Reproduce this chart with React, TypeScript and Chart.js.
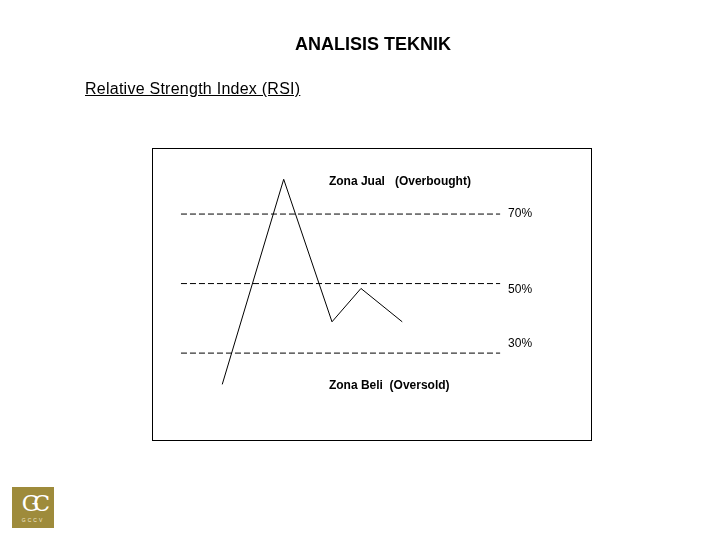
import React, { useEffect, useRef } from "react";
import { Chart, registerables } from "chart.js";

Chart.register(...registerables);

// RSI path (schematic), x in 0..100 horizontal units, y in RSI %
const rsiX = [16, 30, 41, 47.6, 57];
const rsiY = [21, 80, 39, 48.6, 39];

// Reference levels
const levels = [70, 50, 30];
const levelLabels = ["70%", "50%", "30%"];
const levelLabelY = [70.1, 48.3, 32.7];
const levelStartX = 6.6;
const levelEndX = 79.3;
const levelLabelX = 81.1;

// Zone annotations
const zoneTexts = ["Zona Jual   (Overbought)", "Zona Beli  (Oversold)"];
const zoneX = [40.3, 40.3];
const zoneY = [79.4, 20.6];

const FONT = "'Liberation Sans', Arial, sans-serif";

const annotate = {
  id: "annotate",
  afterDraw(chart: any) {
    const { ctx, chartArea, scales } = chart;
    ctx.save();
    ctx.strokeStyle = "#000";
    ctx.lineWidth = 1;
    ctx.setLineDash([]);
    ctx.strokeRect(
      Math.round(chartArea.left) + 0.5,
      Math.round(chartArea.top) + 0.5,
      Math.round(chartArea.right - chartArea.left),
      Math.round(chartArea.bottom - chartArea.top)
    );
    ctx.fillStyle = "#000";
    ctx.textBaseline = "middle";
    ctx.textAlign = "left";
    ctx.font = `bold 12px ${FONT}`;
    zoneTexts.forEach((t, i) => {
      ctx.fillText(t, scales.x.getPixelForValue(zoneX[i]), scales.y.getPixelForValue(zoneY[i]));
    });
    ctx.font = `12px ${FONT}`;
    levelLabels.forEach((t, i) => {
      ctx.fillText(t, scales.x.getPixelForValue(levelLabelX), scales.y.getPixelForValue(levelLabelY[i]));
    });
    ctx.restore();
  },
};

export default function App() {
  const ref = useRef<HTMLCanvasElement | null>(null);
  useEffect(() => {
    if (!ref.current) return;
    const datasets: any[] = [
      {
        data: rsiX.map((x, i) => ({ x, y: rsiY[i] })),
        borderColor: "#000",
        borderWidth: 1,
        pointRadius: 0,
        tension: 0,
      },
      ...levels.map((lv) => ({
        data: [
          { x: levelStartX, y: lv },
          { x: levelEndX, y: lv },
        ],
        borderColor: "#000",
        borderWidth: 1,
        borderDash: [6, 3],
        pointRadius: 0,
      })),
    ];
    const chart = new Chart(ref.current, {
      type: "line",
      data: { datasets },
      options: {
        animation: false,
        responsive: false,
        layout: { padding: { left: 152, right: 129, top: 148, bottom: 100 } },
        plugins: { legend: { display: false }, tooltip: { enabled: false }, title: { display: false } },
        scales: {
          x: { type: "linear", min: 0, max: 100, display: false },
          y: { type: "linear", min: 5, max: 89, display: false },
        },
      },
      plugins: [annotate],
    });
    return () => chart.destroy();
  }, []);

  return (
    <div style={{ position: "absolute", left: 0, top: 0, width: 720, height: 540, background: "#fff", fontFamily: FONT }}>
      <canvas ref={ref} width={720} height={540} style={{ position: "absolute", left: 0, top: 0 }} />
      <div style={{ position: "absolute", left: 0, width: 746, top: 34, textAlign: "center", fontWeight: "bold", fontSize: 18 }}>
        ANALISIS TEKNIK
      </div>
      <div style={{ position: "absolute", left: 85, top: 80, fontSize: 16, textDecoration: "underline", letterSpacing: 0.25 }}>
        Relative Strength Index (RSI)
      </div>
      <div style={{ position: "absolute", left: 12, top: 487, width: 42, height: 41, background: "#9e8b3b" }}>
        <div style={{ position: "absolute", left: 0, width: 42, top: 4, textAlign: "center", color: "#fff", fontSize: 22, fontFamily: "'DejaVu Serif', serif", letterSpacing: -6 }}>
          GC
        </div>
        <div style={{ position: "absolute", left: 0, width: 42, top: 30, textAlign: "center", color: "#f3ead0", fontSize: 5, letterSpacing: 2 }}>
          GCCV
        </div>
      </div>
    </div>
  );
}
